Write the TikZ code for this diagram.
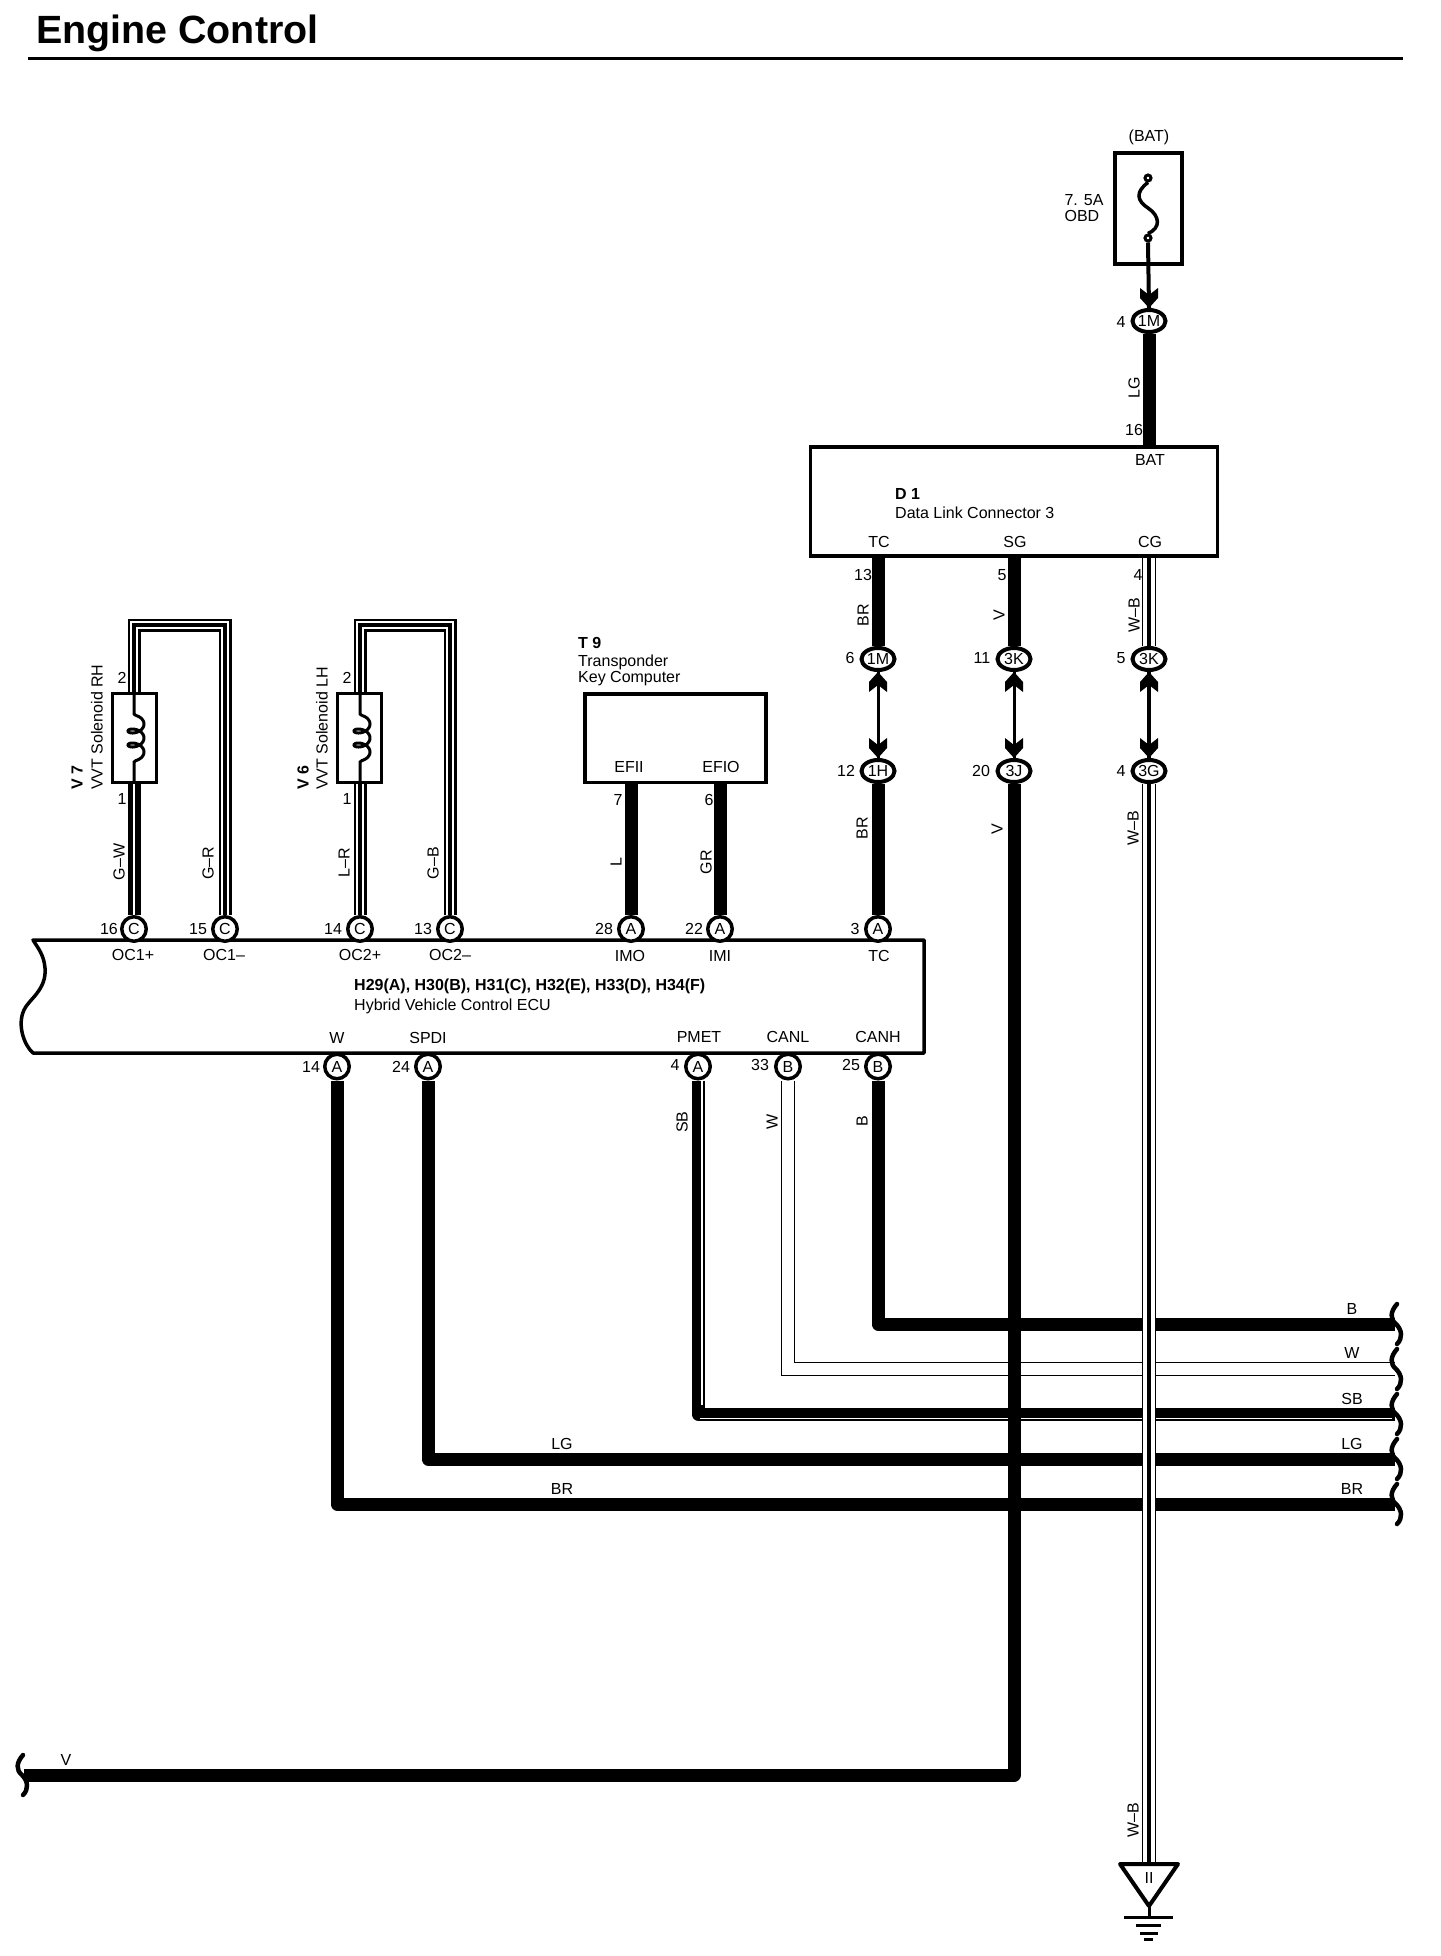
\documentclass[tikz,border=0pt]{standalone}
\usepackage{fontspec}
\setmainfont{Liberation Sans}
\usetikzlibrary{shapes.geometric}
\tikzset{
  lbl/.style={font=\fontsize{16}{17}\selectfont,inner sep=0pt},
  lblb/.style={font=\fontsize{16}{17}\selectfont\bfseries,inner sep=0pt},
  vlbl/.style={lbl,rotate=90},
  boxnode/.style={draw,fill=white,line width=3.5pt,inner sep=0pt},
  pincirc/.style={circle,draw,fill=white,line width=3.5pt,inner sep=0pt,minimum size=24.5pt,font=\fontsize{16}{17}\selectfont},
  pinoval/.style={ellipse,draw,fill=white,line width=4pt,inner sep=0pt,minimum width=33pt,minimum height=22pt,font=\fontsize{16}{17}\selectfont},
  heavywire/.style={line width=13pt,line join=round},
  splitwire/.style={line width=13pt,postaction={draw,white,line width=1.5pt}},
  stripewire/.style={line width=13pt,postaction={draw,white,line width=7.5pt},postaction={draw,black,line width=4.5pt}},
  hollowwire/.style={line width=13.5pt,postaction={draw,white,line width=11.5pt}},
  groundwire/.style={hollowwire,postaction={draw,black,line width=4pt}},
  sbstripe/.style={white,line width=1.5pt},
  linkwire/.style={line width=3pt},
  headtip/.pic={\fill (0,0)--(9,-10)--(9,-20)--(0,-13)--(-9,-20)--(-9,-10)--cycle;},
  wavecap/.pic={\draw[line width=4.5pt,line cap=round] (1,-20) .. controls (-6,-12) and (-6,-5) .. (0,0) .. controls (6,6) and (7,14) .. (1,20);},
  solcoil/.pic={\draw[line width=3pt] (0,-46) -- (0,-24) -- (2,-22.5) plot[domain=-450:450,samples=120,smooth] ({2+8*cos(\x)},{\x/360*14+5*sin(\x)}) -- (0,24) -- (0,46);},
}
\begin{document}
\begin{tikzpicture}[x=1pt,y=-1pt]
\useasboundingbox (0,0) rectangle (1440,1956);

\node[anchor=west,inner sep=0pt,font=\fontsize{39.4}{41}\selectfont\bfseries] (title) at (36,33) {Engine Control};
\draw[line width=3pt] (28,58.5)--(1403,58.5);

  \node[boxnode,minimum width=67pt,minimum height=111pt] (fuseBox) at (1148.5,208.5) {};
  \node[boxnode,minimum width=407pt,minimum height=109pt] (dlcBox) at (1014,501.5) {};
  \node[boxnode,minimum width=181pt,minimum height=88.5pt] (keyBox) at (675.5,738) {};
  \node[boxnode,line width=3pt,minimum width=44pt,minimum height=89pt] (solRH) at (134.5,738) {};
  \node[boxnode,line width=3pt,minimum width=44pt,minimum height=89pt] (solLH) at (359.5,738) {};
  \pic at (134,738) {solcoil};
  \pic at (360,738) {solcoil};

\draw[line width=3.5pt,line join=round] (33,940)--(924,940)--(924,1053)--(33,1053) .. controls (24,1045) and (17,1025) .. (24,1010) .. controls (28,1000) and (47,990) .. (45,968) .. controls (44,955) and (38,948) .. (33,940) -- cycle;

 \node[pincirc] (pC16) at (134,929) {C};
 \node[pincirc] (pC15) at (225,929) {C};
 \node[pincirc] (pC14) at (360,929) {C};
 \node[pincirc] (pC13) at (450,929) {C};
 \node[pincirc] (pA28) at (631,929) {A};
 \node[pincirc] (pA22) at (720,929) {A};
 \node[pincirc] (pA3) at (878,929) {A};
 \node[pincirc] (pA14) at (337,1066.5) {A};
 \node[pincirc] (pA24) at (428,1066.5) {A};
 \node[pincirc] (pA4) at (698,1066.5) {A};
 \node[pincirc] (pB33) at (788,1066.5) {B};
 \node[pincirc] (pB25) at (878,1066.5) {B};

 \node[pinoval] (o1Ma) at (1149,321) {1M};
 \node[pinoval] (o1Mb) at (878,659) {1M};
 \node[pinoval] (o3Ka) at (1014,659) {3K};
 \node[pinoval] (o3Kb) at (1149,659) {3K};
 \node[pinoval] (o1H) at (878,771) {1H};
 \node[pinoval] (o3J) at (1014,771) {3J};
 \node[pinoval] (o3G) at (1149,771) {3G};

 \node[circle,draw,fill=white,line width=3pt,inner sep=0pt,minimum size=6pt] (fuseTop) at (1148,178) {};
 \node[circle,draw,fill=white,line width=3pt,inner sep=0pt,minimum size=6pt] (fuseBot) at (1148,238) {};
 \draw[line width=3.5pt] (fuseTop.south) .. controls (1135,192) and (1137,201) .. (1148,208) .. controls (1160,216) and (1161,228) .. (fuseBot.north);

 \coordinate (endB) at (1395,1324);
 \coordinate (endW) at (1395,1369);
 \coordinate (endSB) at (1395,1414);
 \coordinate (endLG) at (1395,1459);
 \coordinate (endBR) at (1395,1504);
 \coordinate (endV) at (24,1775);
 \coordinate (gndTop) at (1149,1864);
 \coordinate (topRH) at (134,625);
 \coordinate (topLH) at (360,625);

 \draw[linkwire,line width=4pt] (fuseBot.south)--(o1Ma.north);
 \draw[linkwire] (o1Mb.south)--(o1H.north);
 \draw[linkwire] (o3Ka.south)--(o3J.north);
 \draw[linkwire,line width=4pt] (o3Kb.south)--(o3G.north);
 \pic at (o1Ma.north) {headtip};
 \pic at (o1H.north) {headtip};
 \pic at (o3J.north) {headtip};
 \pic at (o3G.north) {headtip};
 \pic[rotate=180] at (o1Mb.south) {headtip};
 \pic[rotate=180] at (o3Ka.south) {headtip};
 \pic[rotate=180] at (o3Kb.south) {headtip};

 \draw[heavywire] (o1Ma.south)--(o1Ma.south |- dlcBox.north);
 \draw[heavywire] (o1Mb.north)--(o1Mb.north |- dlcBox.south);
 \draw[heavywire] (o3Ka.north)--(o3Ka.north |- dlcBox.south);
 \draw[groundwire] (o3Kb.north)--(o3Kb.north |- dlcBox.south);
 \draw[heavywire] (o1H.south)--(pA3.north);
 \draw[heavywire] (pA28.north)--(pA28.north |- keyBox.south);
 \draw[heavywire] (pA22.north)--(pA22.north |- keyBox.south);

 \draw[splitwire] (pC16.north)--(pC16.north |- solRH.south);
 \draw[stripewire] (pC15.north)--(pC15.north |- topRH)--(topRH)--(topRH |- solRH.north);
 \draw[stripewire] (pC14.north)--(pC14.north |- solLH.south);
 \draw[stripewire] (pC13.north)--(pC13.north |- topLH)--(topLH)--(topLH |- solLH.north);

 \draw[heavywire] (pB25.south) |- (endB);
 \draw[hollowwire] (pB33.south) |- (endW);
 \draw[heavywire] (pA4.south) |- (endSB);
 \draw[sbstripe] ([xshift=4pt]pA4.south)--(702,1405);
 \draw[sbstripe] (700,1418.5)--(1392,1418.5);
 \draw[heavywire] (pA24.south) |- (endLG);
 \draw[heavywire] (pA14.south) |- (endBR);
 \draw[heavywire] (o3J.south) |- (endV);
 \draw[groundwire] (o3G.south)--(gndTop);

 \pic at (1396,1324) {wavecap};
 \pic at (1396,1369) {wavecap};
 \pic at (1396,1414) {wavecap};
 \pic at (1396,1459) {wavecap};
 \pic at (1396,1504) {wavecap};
 \pic at (22,1775) {wavecap};

 \draw[line width=4pt,line join=round] (1120,1864)--(1178,1864)--(1149,1906)--cycle;
 \draw[line width=3pt] (1149,1906)--(1149,1917);
 \draw[line width=3pt] (1124,1917)--(1173,1917);
 \draw[line width=3pt] (1136,1925)--(1161,1925);
 \draw[line width=3pt] (1140,1933)--(1158,1933);
 \draw[line width=3pt] (1144,1939)--(1153,1939);
 \node[lbl] (gndMark) at (1149,1878) {II};

 \node[lbl] (tBatTop) at (1149,137) {(BAT)};
 \node[lbl,align=left] (tFuse) at (1084,208) {7. 5A\\[-1pt]OBD};
 \node[lbl] (n4a) at (1121,322) {4};
 \node[vlbl] (wLGa) at (1134,388) {LG};
 \node[lbl] (n16a) at (1134,430) {16};
 \node[lbl] (tBat) at (1150,460) {BAT};
 \node[lblb,anchor=west] (tD1) at (895,494) {D 1};
 \node[lbl,anchor=west] (tDlc) at (895,513) {Data Link Connector 3};
 \node[lbl] (tTCa) at (879,542) {TC};
 \node[lbl] (tSG) at (1015,542) {SG};
 \node[lbl] (tCG) at (1150,542) {CG};
 \node[lbl] (n13a) at (863,575) {13};
 \node[lbl] (n5a) at (1002,575) {5};
 \node[lbl] (n4b) at (1138,575) {4};
 \node[vlbl] (wBRa) at (863,615) {BR};
 \node[vlbl] (wVa) at (999,615) {V};
 \node[vlbl] (wWBa) at (1134,615) {W–B};
 \node[lbl] (n6a) at (850,658) {6};
 \node[lbl] (n11) at (982,658) {11};
 \node[lbl] (n5b) at (1121,658) {5};
 \node[lbl] (n12) at (846,771) {12};
 \node[lbl] (n20) at (981,771) {20};
 \node[lbl] (n4c) at (1121,771) {4};
 \node[vlbl] (wBRb) at (862,828) {BR};
 \node[vlbl] (wVb) at (997,829) {V};
 \node[vlbl] (wWBb) at (1133,828) {W–B};
 \node[vlbl] (wWBc) at (1133,1820) {W–B};

 \node[lblb,anchor=west] (tT9) at (578,643) {T 9};
 \node[lbl,anchor=west] (tTrans) at (578,662) {Transponder};
 \node[lbl,anchor=west] (tKey) at (578,679) {Key Computer};
 \node[lbl] (tEFII) at (629,767) {EFII};
 \node[lbl] (tEFIO) at (721,767) {EFIO};
 \node[lbl] (n7) at (618,800) {7};
 \node[lbl] (n6b) at (709,800) {6};
 \node[vlbl] (wL) at (616,862) {L};
 \node[vlbl] (wGR) at (706,862) {GR};

 \node[lblb,anchor=west,rotate=90] (tV7) at (77,790) {V 7};
 \node[lbl,anchor=west,rotate=90] (tRH) at (97,790) {VVT Solenoid RH};
 \node[lblb,anchor=west,rotate=90] (tV6) at (303,790) {V 6};
 \node[lbl,anchor=west,rotate=90] (tLH) at (322,790) {VVT Solenoid LH};
 \node[lbl] (n2a) at (122,678) {2};
 \node[lbl] (n1a) at (122,799) {1};
 \node[lbl] (n2b) at (347,678) {2};
 \node[lbl] (n1b) at (347,799) {1};
 \node[vlbl] (wGW) at (119,862) {G–W};
 \node[vlbl] (wGRb) at (208,863) {G–R};
 \node[vlbl] (wLR) at (344,863) {L–R};
 \node[vlbl] (wGB) at (433,863) {G–B};

 \node[lbl] (n16b) at (109,929) {16};
 \node[lbl] (n15) at (198,929) {15};
 \node[lbl] (n14a) at (333,929) {14};
 \node[lbl] (n13b) at (423,929) {13};
 \node[lbl] (n28) at (604,929) {28};
 \node[lbl] (n22) at (694,929) {22};
 \node[lbl] (n3) at (855,929) {3};
 \node[lbl] (tOCa) at (133,955) {OC1+};
 \node[lbl] (tOCb) at (224,955) {OC1–};
 \node[lbl] (tOCc) at (360,955) {OC2+};
 \node[lbl] (tOCd) at (450,955) {OC2–};
 \node[lbl] (tIMO) at (630,956) {IMO};
 \node[lbl] (tIMI) at (720,956) {IMI};
 \node[lbl] (tTCb) at (879,956) {TC};
 \node[lblb,anchor=west] (tECUa) at (354,986) {H29(A), H30(B), H31(C), H32(E), H33(D), H34(F)};
 \node[lbl,anchor=west] (tECUb) at (354,1006) {Hybrid Vehicle Control ECU};
 \node[lbl] (tW) at (337,1038) {W};
 \node[lbl] (tSPDI) at (428,1038) {SPDI};
 \node[lbl] (tPMET) at (699,1037) {PMET};
 \node[lbl] (tCANL) at (788,1037) {CANL};
 \node[lbl] (tCANH) at (878,1037) {CANH};
 \node[lbl] (n14b) at (311,1067) {14};
 \node[lbl] (n24) at (401,1067) {24};
 \node[lbl] (n4d) at (675,1065) {4};
 \node[lbl] (n33) at (760,1065) {33};
 \node[lbl] (n25) at (851,1065) {25};
 \node[vlbl] (wSB) at (682,1122) {SB};
 \node[vlbl] (wW) at (772,1122) {W};
 \node[vlbl] (wB) at (862,1121) {B};

 \node[lbl] (eB) at (1352,1309) {B};
 \node[lbl] (eW) at (1352,1353) {W};
 \node[lbl] (eSB) at (1352,1399) {SB};
 \node[lbl] (eLG) at (1352,1444) {LG};
 \node[lbl] (eBR) at (1352,1489) {BR};
 \node[lbl] (mLG) at (562,1444) {LG};
 \node[lbl] (mBR) at (562,1489) {BR};
 \node[lbl] (mV) at (66,1760) {V};
\end{tikzpicture}
\end{document}
